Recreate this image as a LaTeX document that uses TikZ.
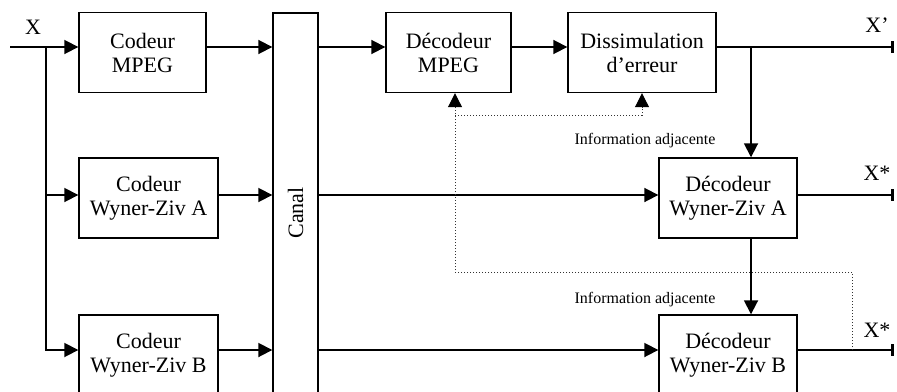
\documentclass[tikz,border=0pt]{standalone}
\usepackage{fontspec}
\setmainfont{Liberation Serif}
\usetikzlibrary{arrows.meta, calc}
\tikzset{
  block/.style  = {rectangle, draw, line width=0.7pt, align=center,
                   minimum height=40pt, inner sep=2pt,
                   font=\fontsize{11}{12}\selectfont},
  chan/.style   = {rectangle, draw, line width=0.7pt, minimum width=22.5pt,
                   minimum height=200pt, font=\fontsize{11}{12}\selectfont},
  lab/.style    = {font=\fontsize{11}{12}\selectfont, inner sep=1pt},
  note/.style   = {font=\fontsize{8}{9}\selectfont, inner sep=1pt},
  wire/.style   = {line width=0.9pt},
  conn/.style   = {wire, -{Triangle[length=7pt, width=7pt]}},
  sortie/.style = {wire, -{Bar[width=6pt, line width=1.6pt]}},
  side/.style   = {line width=0.5pt, black!80, densely dotted,
                   -{Triangle[length=7pt, width=7pt, black]}},
}
\begin{document}
\begin{tikzpicture}[x=0.5pt, y=-0.5pt]
\clip (0,0) rectangle (897,391);

% Rows carried by the connectors
\coordinate (r1) at (0,47);
\coordinate (r2) at (0,195);
\coordinate (r3) at (0,350);

% Coders on the left
\node (cmpeg) [block, minimum width=63.5pt] at (142.5,52.5) {Codeur\\MPEG};
\node (cwza) [block, minimum width=69.5pt] at (148.5,198) {Codeur\\Wyner-Ziv A};
\node (cwzb) [block, minimum width=69.5pt] at (148.5,355) {Codeur\\Wyner-Ziv B};

% The channel
\node (canal) [chan] at (295.5,213) {\rotatebox{90}{Canal}};

% Decoders on the right
\node (dmpeg) [block, minimum width=62.5pt] at (448.5,52.5) {Décodeur\\MPEG};
\node (diss) [block, minimum width=74pt] at (642,52.5) {Dissimulation\\d’erreur};
\node (dwza) [block, minimum width=69pt] at (728,198) {Décodeur\\Wyner-Ziv A};
\node (dwzb) [block, minimum width=69pt] at (728,355) {Décodeur\\Wyner-Ziv B};

% Input X and its fork
\coordinate (xin) at (10,47);
\coordinate (fork) at (46,47);
\node (lx) [lab] at (33,27) {X};
\draw [conn] (xin) -- (xin -| cmpeg.west);
\draw [conn] (fork) |- (r2 -| cwza.west);
\draw [conn] (fork) |- (r3 -| cwzb.west);

% Coders to channel
\draw [conn] (cmpeg.east |- r1) -- (canal.west |- r1);
\draw [conn] (cwza.east |- r2) -- (canal.west |- r2);
\draw [conn] (cwzb.east |- r3) -- (canal.west |- r3);

% Channel to decoders
\draw [conn] (canal.east |- r1) -- (dmpeg.west |- r1);
\draw [conn] (dmpeg.east |- r1) -- (diss.west |- r1);
\draw [conn] (canal.east |- r2) -- (dwza.west |- r2);
\draw [conn] (canal.east |- r3) -- (dwzb.west |- r3);

% Outputs
\coordinate (outa) at (894,47);
\coordinate (outb) at (894,195);
\coordinate (outc) at (894,350);
\draw [sortie] (diss.east |- r1) -- (outa);
\draw [sortie] (dwza.east |- r2) -- (outb);
\draw [sortie] (dwzb.east |- r3) -- (outc);
\node (lxp) [lab] at (877,25) {X’};
\node (lxa) [lab] at (877,173) {X*};
\node (lxb) [lab] at (877,330) {X*};

% Side information down the chain
\coordinate (tap) at (751,47);
\draw [conn] (tap) -- (tap |- dwza.north);
\draw [conn] (tap |- dwza.south) -- (tap |- dwzb.north);
\node (ia) [note] at (645,141) {Information adjacente};
\node (ib) [note] at (645,300) {Information adjacente};

% Feedback from decoder B (dotted)
\coordinate (loop) at (852,272);
\coordinate (split) at (455,115);
\draw [side] (loop |- r3) -- (loop) -| (split |- dmpeg.south);
\draw [side] (split) -| (diss.south);

\end{tikzpicture}
\end{document}
